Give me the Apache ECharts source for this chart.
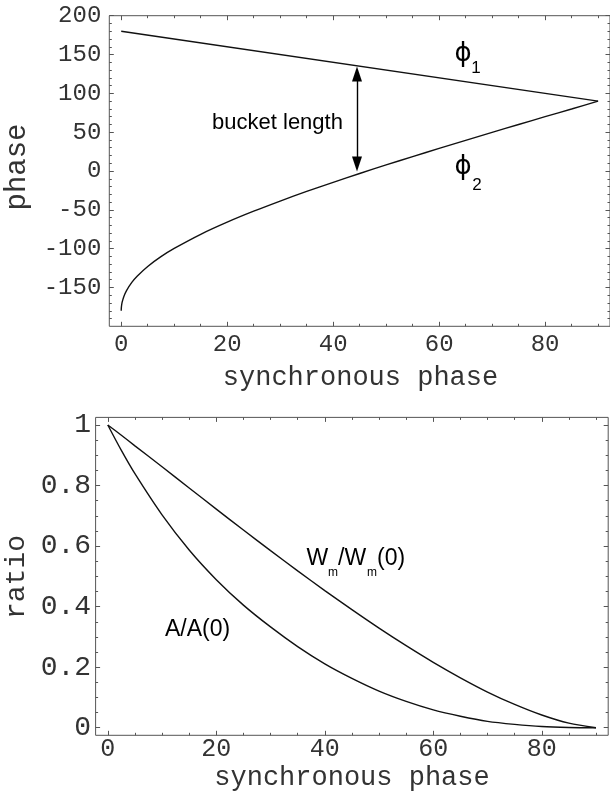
<!DOCTYPE html>
<html>
<head>
<meta charset="utf-8">
<script src="https://cdn.jsdelivr.net/npm/echarts@6/dist/echarts.min.js"></script>
<style>
  html, body { margin: 0; padding: 0; background: #fff; }
  #chart { width: 610px; height: 803px; }
</style>
</head>
<body>
<div id="chart"></div>
<script>
// upper plot: bucket edges phi_1, phi_2 (deg) against synchronous phase (deg)
const phaseSync = [0, 0.02, 0.1, 0.2, 0.5, 1, 2, 3, 5, 7.5, 10, 15, 20, 25, 30, 35, 40, 45, 50, 55, 60, 65, 70, 75, 80, 85, 90];
const phi2 = [-180, -176.3, -171.6, -168.2, -161.5, -154.0, -143.5, -135.5, -122.9, -110.3, -99.7, -81.5, -65.9, -51.8, -38.7, -26.3, -14.6, -3.2, 7.8, 18.6, 29.1, 39.5, 49.8, 59.9, 70.0, 79.9, 90];
const phi1Sync = [0, 90];
const phi1 = [180, 90];
const bucketArrow = [[44.5, 125], [44.5, 9]];

// lower plot: bucket area and height relative to phi_s = 0
const ratioSync = [0, 2.5, 5, 10, 15, 20, 25, 30, 35, 40, 45, 50, 55, 60, 65, 70, 75, 80, 85, 90];
const areaRatio = [1, 0.916, 0.839, 0.703, 0.587, 0.489, 0.405, 0.333, 0.268, 0.211, 0.163, 0.121, 0.087, 0.059, 0.038, 0.021, 0.011, 0.004, 0.001, 0];
const heightRatio = [1, 0.966, 0.931, 0.862, 0.792, 0.722, 0.653, 0.585, 0.518, 0.453, 0.390, 0.329, 0.271, 0.216, 0.165, 0.118, 0.077, 0.042, 0.015, 0];

// tick labels
const syncTicks = [0, 20, 40, 60, 80];
const phaseTicks = [-150, -100, -50, 0, 50, 100, 150, 200];
const ratioTicks = [0, 0.2, 0.4, 0.6, 0.8, 1];

const mono = '"Liberation Mono", monospace';
const sans = '"Liberation Sans", Arial, sans-serif';
const frame = '#555';
const ink = '#111';
const grey = '#333';

function minorTicks(from, to, step, majors) {
  const out = [];
  for (let i = 0; from + i * step <= to + 1e-9; i++) {
    const v = Math.round((from + i * step) * 1000) / 1000;
    if (majors.indexOf(v) < 0) out.push(v);
  }
  return out;
}
const syncMinor = minorTicks(0, 90, 5, syncTicks);
const phaseMinor = minorTicks(-190, 190, 10, phaseTicks);
const ratioMinor = minorTicks(0, 1, 0.05, ratioTicks);

function zip(xs, ys) {
  return xs.map((x, i) => [x, ys[i]]);
}

// one axis = one set of inside ticks (major or minor), labels optional
function axis(grid, pos, min, max, values, len, label) {
  return {
    type: 'value', gridIndex: grid, position: pos, min: min, max: max,
    axisLine: { show: false, onZero: false },
    splitLine: { show: false },
    axisTick: { show: true, inside: true, length: len, customValues: values,
      lineStyle: { color: frame, width: 1 } },
    axisLabel: label
      ? Object.assign({ customValues: values, color: grey, fontFamily: mono }, label)
      : { show: false }
  };
}

const xRange = [-2.25, 92.25];
const xAxes = [
  axis(0, 'bottom', xRange[0], xRange[1], syncTicks, 4.5, { fontSize: 24, margin: 6 }),
  axis(0, 'bottom', xRange[0], xRange[1], syncMinor, 2.5),
  axis(0, 'top', xRange[0], xRange[1], syncTicks, 4.5),
  axis(0, 'top', xRange[0], xRange[1], syncMinor, 2.5),
  axis(1, 'bottom', xRange[0], xRange[1], syncTicks, 4.5, { fontSize: 25, margin: 2 }),
  axis(1, 'bottom', xRange[0], xRange[1], syncMinor, 2.5),
  axis(1, 'top', xRange[0], xRange[1], syncTicks, 4.5),
  axis(1, 'top', xRange[0], xRange[1], syncMinor, 2.5)
];
const yAxes = [
  axis(0, 'left', -200, 200, phaseTicks, 4.5, { fontSize: 24, margin: 8 }),
  axis(0, 'left', -200, 200, phaseMinor, 2.5),
  axis(0, 'right', -200, 200, phaseTicks, 4.5),
  axis(0, 'right', -200, 200, phaseMinor, 2.5),
  axis(1, 'left', -0.025, 1.025, ratioTicks, 4.5, { fontSize: 28, margin: 4.5 }),
  axis(1, 'left', -0.025, 1.025, ratioMinor, 2.5),
  axis(1, 'right', -0.025, 1.025, ratioTicks, 4.5),
  axis(1, 'right', -0.025, 1.025, ratioMinor, 2.5)
];

function curve(xi, data, extra) {
  return Object.assign({
    type: 'line', xAxisIndex: xi, yAxisIndex: xi, data: data,
    showSymbol: false, silent: true,
    lineStyle: { color: ink, width: 1.4 }
  }, extra || {});
}

function txt(x, y, text, font, opts) {
  opts = opts || {};
  return {
    type: 'text', x: x, y: y, silent: true, rotation: opts.rotation || 0,
    style: { text: text, font: font, fill: opts.fill || '#000',
      textAlign: opts.align || 'center', textVerticalAlign: 'middle' }
  };
}

const chart = echarts.init(document.getElementById('chart'), null, { renderer: 'canvas' });
chart.setOption({
  animation: false,
  backgroundColor: '#fff',
  grid: [
    { left: 109.3, top: 15.7, width: 501.4, height: 310.6, show: true,
      borderColor: frame, borderWidth: 1, backgroundColor: 'transparent' },
    { left: 95.6, top: 417.4, width: 512.6, height: 317.9, show: true,
      borderColor: frame, borderWidth: 1, backgroundColor: 'transparent' }
  ],
  xAxis: xAxes,
  yAxis: yAxes,
  series: [
    curve(0, zip(phi1Sync, phi1), {
      markLine: {
        silent: true, animation: false,
        symbol: ['triangle', 'triangle'], symbolSize: [10, 15],
        label: { show: false },
        lineStyle: { color: '#000', width: 1.4, type: 'solid' },
        emphasis: { disabled: true },
        data: [[{ coord: bucketArrow[0] }, { coord: bucketArrow[1] }]]
      }
    }),
    curve(0, zip(phaseSync, phi2), { smooth: 0.3 }),
    curve(4, zip(ratioSync, heightRatio), { smooth: 0.3 }),
    curve(4, zip(ratioSync, areaRatio), { smooth: 0.3 })
  ],
  graphic: [
    // axis titles
    txt(360.5, 378, 'synchronous phase', '27px ' + mono, { fill: grey }),
    txt(352, 778, 'synchronous phase', '27px ' + mono, { fill: grey }),
    txt(17, 167, 'phase', '29px ' + mono, { fill: grey, rotation: Math.PI / 2 }),
    txt(17, 577, 'ratio', '28px ' + mono, { fill: grey, rotation: Math.PI / 2 }),
    // annotations
    txt(277.5, 123, 'bucket length', '22px ' + sans),
    txt(463, 54, '\u03d5', '26px "DejaVu Sans"'),
    txt(476, 68, '1', '17px ' + sans),
    txt(463, 167.5, '\u03d5', '26px "DejaVu Sans"'),
    txt(477, 185.5, '2', '17px ' + sans),
    txt(197.5, 630, 'A/A(0)', '23px ' + sans),
    txt(306.5, 558.7, 'W', '23px ' + sans, { align: 'left' }),
    txt(328, 572.8, 'm', '12px ' + sans, { align: 'left' }),
    txt(338, 558.7, '/W', '23px ' + sans, { align: 'left' }),
    txt(367, 572.8, 'm', '12px ' + sans, { align: 'left' }),
    txt(377, 558.7, '(0)', '23px ' + sans, { align: 'left' })
  ]
});
</script>
</body>
</html>
